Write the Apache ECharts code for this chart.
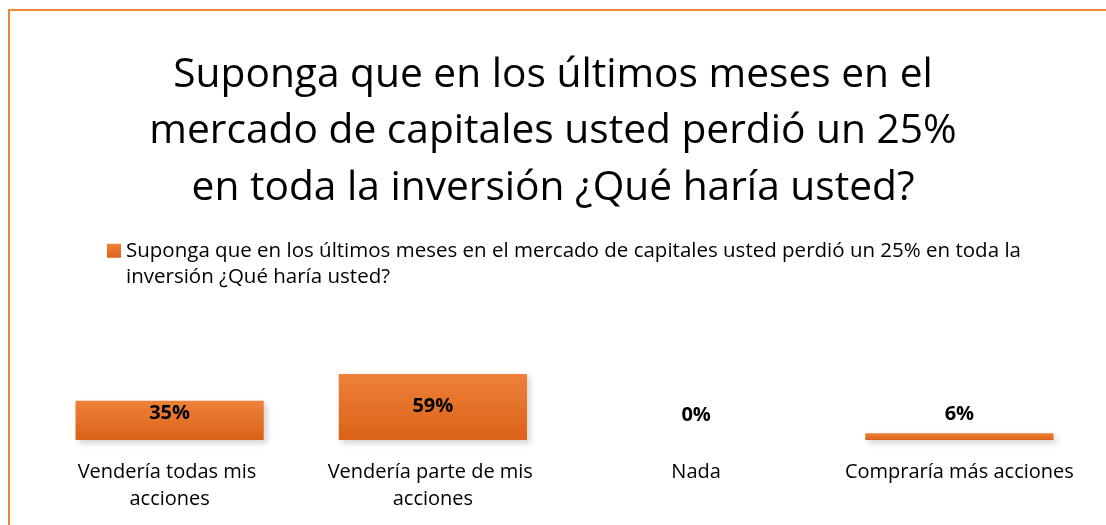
<!DOCTYPE html>
<html>
<head>
<meta charset="utf-8">
<script src="https://cdn.jsdelivr.net/npm/echarts@6/dist/echarts.min.js"></script>
<style>
  html, body { margin: 0; padding: 0; background: #fff; }
  #main { width: 1106px; height: 525px; }
</style>
</head>
<body>
<div id="main"></div>
<script>
let myChart = echarts.init(document.getElementById('main'));

// datos
let titulo = 'Suponga que en los últimos meses en el\nmercado de capitales usted perdió un 25%\nen toda la inversión ¿Qué haría usted?';
let serieNombre = 'Suponga que en los últimos meses en el mercado de capitales usted perdió un 25% en toda la inversión ¿Qué haría usted?';
let categorias = ['Vendería todas mis acciones', 'Vendería parte de mis acciones', 'Nada', 'Compraría más acciones'];
let valores = [35, 59, 0, 6];

let naranja = new echarts.graphic.LinearGradient(0, 0, 0, 1, [
    {offset: 0, color: '#EE8139'},
    {offset: 1, color: '#DB6218'}
]);

// posicion de etiquetas como en el original
let etiquetas = [
    {position: 'insideTop', distance: 2},
    {position: 'insideTop', distance: 22},
    {position: 'top', distance: 15},
    {position: 'top', distance: 9}
];

let option = {
    backgroundColor: '#fff',
    textStyle: {fontFamily: 'Open Sans'},
    graphic: [{
        type: 'rect',
        shape: {x: 9, y: 10, width: 1200, height: 600},
        style: {fill: 'none', stroke: '#F08536', lineWidth: 2},
        silent: true
    }],
    title: {
        text: titulo,
        left: 'center',
        top: 42,
        textStyle: {
            fontSize: 40.7,
            fontWeight: 'normal',
            color: '#000',
            lineHeight: 56.5,
            fontFamily: 'Open Sans'
        }
    },
    legend: {
        left: 102,
        top: 206,
        itemWidth: 14,
        itemHeight: 14,
        itemGap: 10,
        icon: 'rect',
        // linea vacia delante para alinear el icono con la primera linea
        formatter: function (name) {
            return '\n' + name;
        },
        textStyle: {
            fontSize: 20.5,
            color: '#000',
            width: 985,
            overflow: 'break',
            lineHeight: 26.5,
            fontFamily: 'Open Sans'
        }
    },
    grid: {
        left: 38,
        right: 15,
        top: 328,
        bottom: 85
    },
    xAxis: {
        type: 'category',
        data: categorias,
        axisLine: {show: false},
        axisTick: {show: false},
        axisLabel: {
            interval: 0,
            margin: 19,
            fontSize: 20,
            color: '#000',
            width: 255,
            overflow: 'break',
            lineHeight: 27,
            fontFamily: 'Open Sans'
        }
    },
    yAxis: {
        type: 'value',
        min: 0,
        max: 100,
        show: false,
        splitLine: {show: false}
    },
    series: [{
        name: serieNombre,
        type: 'bar',
        barWidth: '71.5%',
        data: valores.map(function (v, i) {
            return {value: v, label: etiquetas[i]};
        }),
        itemStyle: {
            color: naranja,
            shadowColor: 'rgba(0,0,0,0.18)',
            shadowBlur: 6,
            shadowOffsetX: 3,
            shadowOffsetY: 3
        },
        label: {
            show: true,
            formatter: '{c}%',
            fontSize: 20,
            fontWeight: 'bold',
            color: '#000',
            fontFamily: 'Open Sans'
        }
    }]
};

myChart.setOption(option);
</script>
</body>
</html>
